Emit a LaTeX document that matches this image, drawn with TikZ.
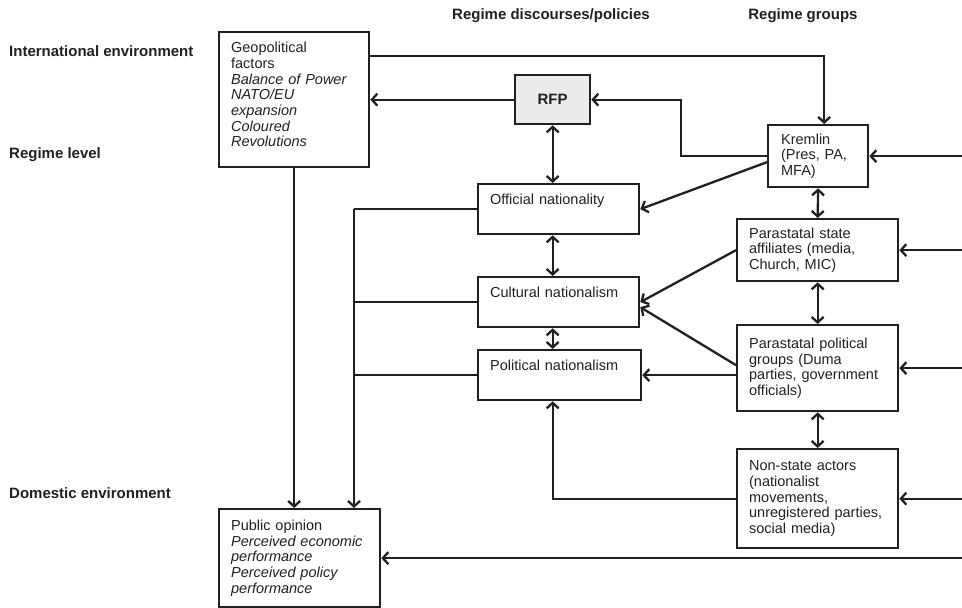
\documentclass[tikz,border=0pt]{standalone}
\usepackage{fontspec}
\setmainfont{Liberation Sans}
\usetikzlibrary{arrows.meta,positioning}
\definecolor{rfpgrey}{RGB}{235,235,235}
\definecolor{inkgrey}{RGB}{35,31,32}

\begin{document}
\begin{tikzpicture}[x=1pt,y=-1pt,inkgrey,
    txt/.style={font=\fontsize{14.5}{15.7}\selectfont},
    hdr/.style={font=\fontsize{15}{16}\selectfont\bfseries,inner sep=0pt},
    box/.style={draw,line width=2.3pt,anchor=north west,inner xsep=12pt,inner ysep=3pt,
      align=left,txt},
    nat/.style={box,text height=17pt,text depth=27pt},
    a/.style={-{Straight Barb[length=5.5pt,width=12pt]},line width=2.3pt},
    da/.style={{Straight Barb[length=5.5pt,width=12pt]}-{Straight Barb[length=5.5pt,width=12pt]},
      line width=2.3pt}]
  \useasboundingbox (0,0) rectangle (962,608);
  \node[hdr,anchor=west] (intl) at (9,51) {International environment};
  \node[hdr,anchor=west] (rlev) at (9,155) {Regime level};
  \node[hdr,anchor=west] (dom) at (9,493) {Domestic environment};
  \node[hdr] (hdisc) at (551,16) {Regime discourses/policies};
  \node[hdr] (hgrp) at (803,16) {Regime groups};
  \node[box,text width=126pt,minimum height=135pt] (geo) at (218,31)
    {Geopolitical\\factors\\\textit{Balance of Power}\\\textit{NATO/EU}\\\textit{expansion}\\
     \textit{Coloured}\\\textit{Revolutions}\par\vspace{10pt}};
  \node[draw,line width=2.3pt,fill=rfpgrey,anchor=north west,minimum width=75pt,
    minimum height=49pt,font=\fontsize{15}{16}\selectfont\bfseries] (rfp) at (514,74) {RFP};
  \node[box,text width=74pt,minimum height=62pt,inner xsep=13pt] (kremlin) at (767,124)
    {Kremlin\\(Pres, PA,\\MFA)};
  \node[nat,text width=137pt] (official) at (477,183) {Official nationality};
  \node[nat,text width=137pt] (cultural) at (477,276) {Cultural nationalism};
  \node[nat,text width=139pt] (political) at (477,349) {Political nationalism};
  \node[box,text width=137pt,minimum height=62pt] (state) at (736,218)
    {Parastatal state\\affiliates (media,\\Church, MIC)};
  \node[box,text width=137pt,minimum height=86pt] (groups) at (736,324)
    {Parastatal political\\groups (Duma\\parties, government\\officials)};
  \node[box,text width=137pt,minimum height=99pt] (nonstate) at (736,448)
    {Non-state actors\\(nationalist\\movements,\\unregistered parties,\\social media)};
  \node[box,text width=137pt,minimum height=98pt] (public) at (218,508)
    {Public opinion\\\textit{Perceived economic}\\\textit{performance}\\
     \textit{Perceived policy}\\\textit{performance}};
  \coordinate (edge) at (962,0);
  \coordinate (bus) at (354,0);
  \draw[a] (geo.east |- 0,56) -| ([xshift=6pt]kremlin.north);
  \draw[a] (rfp.west) -- (rfp.west -| geo.east);
  \draw[a] (kremlin.west) -- ++(-86,0) |- (rfp.east);
  \draw[a] (kremlin.east -| edge) -- (kremlin.east);
  \draw[da] (rfp.south) -- (rfp.south |- official.north);
  \draw[da] (official.south -| rfp) -- (cultural.north -| rfp);
  \draw[da] (cultural.south -| rfp) -- (political.north -| rfp);
  \draw[a] ([yshift=-6pt]kremlin.west) -- (official.east);
  \draw[da] (kremlin.south) -- (state.north);
  \draw[da] (state.south) -- (groups.north);
  \draw[da] (groups.south) -- (nonstate.north);
  \draw[a] (state.west) -- (cultural.east);
  \draw[a] ([yshift=3pt]groups.west) -- ([yshift=-5pt]cultural.east);
  \draw[a] (groups.west |- political.east) -- (political.east);
  \draw[a] (state.east -| edge) -- (state.east);
  \draw[a] (groups.east -| edge) -- (groups.east);
  \draw[a] (nonstate.east -| edge) -- (nonstate.east);
  \draw[a] (nonstate.west) -| (political.south -| rfp);
  \draw[line width=2.3pt] (official.west) -- (official.west -| bus);
  \draw[line width=2.3pt] (cultural.west) -- (cultural.west -| bus);
  \draw[line width=2.3pt] (political.west) -- (political.west -| bus);
  \draw[a] (official.west -| bus) -- (bus |- public.north);
  \draw[a] (geo.south) -- (geo.south |- public.north);
  \draw[a] (public.east -| edge) -- (public.east);
\end{tikzpicture}
\end{document}
